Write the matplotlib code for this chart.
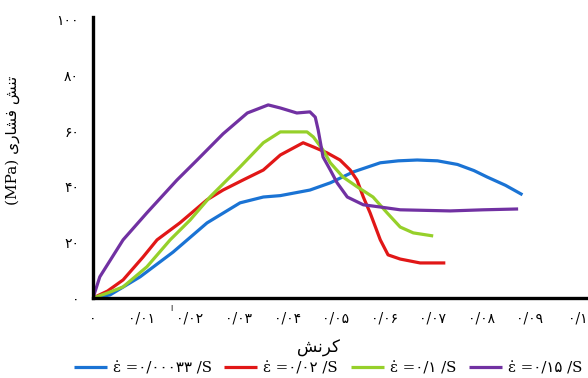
import matplotlib
matplotlib.use("Agg")
import matplotlib.pyplot as plt

# strain (x) and compressive stress in MPa (y) for each strain rate
blue_x = [0, 0.0035, 0.0097, 0.0165, 0.0235, 0.0303, 0.0351, 0.0386, 0.0447, 0.0489, 0.0536,
          0.0592, 0.0629, 0.0668, 0.071, 0.0751, 0.0785, 0.0812, 0.085, 0.0885]
blue_y = [0, 1.1, 7.6, 16.5, 27.0, 34.2, 36.3, 36.8, 38.8, 41.4, 45.3, 48.6, 49.3, 49.6, 49.3,
          48.0, 45.8, 43.5, 40.5, 37.1]

red_x = [0, 0.003, 0.0062, 0.0103, 0.0132, 0.0179, 0.0235, 0.0268, 0.0309, 0.0351, 0.0386,
         0.0433, 0.0454, 0.0482, 0.0509, 0.053, 0.0544, 0.0557, 0.0571, 0.0592, 0.0608, 0.0633,
         0.0674, 0.0726]
red_y = [0, 2.5, 6.5, 14.7, 20.9, 27.0, 35.3, 38.8, 42.4, 46.0, 51.4, 55.8, 54.3, 52.2, 49.6,
         46.0, 42.4, 36.3, 30.6, 20.9, 15.5, 14.0, 12.6, 12.6]

green_x = [0, 0.003, 0.0062, 0.0111, 0.0159, 0.020, 0.0241, 0.0276, 0.0303, 0.0351, 0.0386,
           0.0441, 0.0454, 0.0474, 0.0489, 0.0515, 0.0544, 0.0577, 0.0606, 0.0633, 0.066, 0.0701]
green_y = [0, 1.8, 4.0, 11.2, 20.9, 28.0, 36.3, 42.4, 47.1, 55.8, 59.7, 59.7, 57.9, 53.2, 48.6,
           43.5, 40.0, 36.3, 30.6, 25.5, 23.4, 22.3]

purple_x = [0, 0.0014, 0.0062, 0.0111, 0.0173, 0.0214, 0.0268, 0.0318, 0.0361, 0.0386, 0.042,
            0.0447, 0.0458, 0.0464, 0.0474, 0.0489, 0.0503, 0.0524, 0.0557, 0.0592, 0.0633,
            0.0736, 0.0804, 0.0876]
purple_y = [0, 7.6, 20.9, 30.6, 42.4, 49.5, 59.0, 66.5, 69.4, 68.3, 66.5, 66.9, 65.0, 60.4,
            50.7, 46.0, 41.4, 36.3, 33.5, 32.7, 31.7, 31.3, 31.7, 32.0]

labels = ["ε\u0307 =۰/۰۰۰۳۳ /S", "ε\u0307 =۰/۰۲ /S", "ε\u0307 =۰/۱ /S", "ε\u0307 =۰/۱۵ /S"]
colors = ["#1a73d4", "#e11717", "#96d02a", "#7131a2"]

x_ticks = [0, 0.01, 0.02, 0.03, 0.04, 0.05, 0.06, 0.07, 0.08, 0.09, 0.1]
x_ticklabels = ["۰", "۰/۰۱", "۰/۰۲", "۰/۰۳", "۰/۰۴", "۰/۰۵", "۰/۰۶", "۰/۰۷", "۰/۰۸", "۰/۰۹", "۰/۱"]
y_ticks = [0, 20, 40, 60, 80, 100]
y_ticklabels = ["۰", "۲۰", "۴۰", "۶۰", "۸۰", "۱۰۰"]

fonts = ["DejaVu Serif", "DejaVu Sans"]

# Persian labels written in visual order with presentation forms (no shaping in matplotlib)
ylabel = "(MPa) \uFBFC\uFEAD\uFE8E\uFEB8\uFED3 \uFEB6\uFEE8\uFE97"
xlabel = "\uFEB6\uFEE7\uFEAE\uFB90"

fig = plt.figure(figsize=(5.88, 3.78), dpi=100)
ax = fig.add_axes([93 / 588, 80 / 378, 495 / 588, 281 / 378])

series = [(blue_x, blue_y), (red_x, red_y), (green_x, green_y), (purple_x, purple_y)]
for (xs, ys), c, lab in zip(series, colors, labels):
    ax.plot(xs, ys, color=c, lw=2.3, label=lab, solid_capstyle="butt")

ax.set_xlim(0, 0.102)
ax.set_ylim(0, 101)
for s in ["top", "right"]:
    ax.spines[s].set_visible(False)
for s in ["left", "bottom"]:
    ax.spines[s].set_linewidth(2.4)
ax.set_xticks(x_ticks)
ax.set_xticklabels(x_ticklabels, family=fonts, fontsize=10)
ax.set_yticks(y_ticks)
ax.set_yticklabels(y_ticklabels, family=fonts, fontsize=10)
ax.tick_params(length=0, pad=10)

ax.set_xlabel(xlabel, family=fonts, fontsize=12)
ax.xaxis.set_label_coords(0.455, -0.15)
ax.set_ylabel(ylabel, family=fonts, fontsize=11)
ax.yaxis.set_label_coords(-0.147, 0.56)

# small stray mark between the first two strain labels
ax.text(0.0161, -0.04, "ا", transform=ax.get_xaxis_transform(), family=fonts,
        fontsize=6, ha="center", va="center")

fig.legend(loc="center", bbox_to_anchor=(328 / 588, 1 - 368 / 378), ncol=4, frameon=False,
           prop={"family": fonts, "size": 10.8}, handlelength=2.2, handletextpad=0.4,
           columnspacing=0.85)

fig.savefig("out.png", dpi=100)
